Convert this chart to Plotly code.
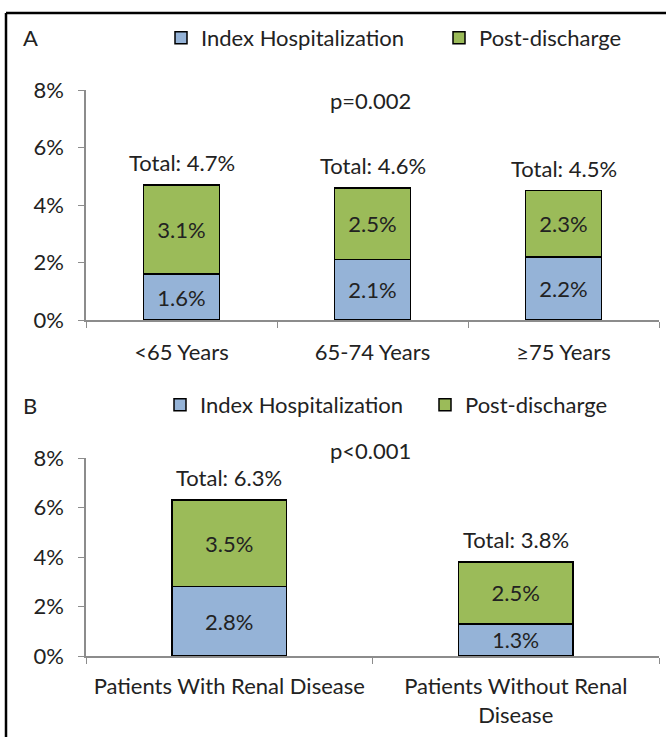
import plotly.graph_objects as go

# Panel A - age groups
age_groups = ['<65 Years', '65-74 Years', '≥75 Years']
age_index = [1.6, 2.1, 2.2]
age_post = [3.1, 2.5, 2.3]
age_total = [4.7, 4.6, 4.5]

# Panel B - renal disease
renal_groups = ['Patients With Renal Disease', 'Patients Without Renal<br>Disease']
renal_index = [2.8, 1.3]
renal_post = [3.5, 2.5]
renal_total = [6.3, 3.8]

blue = '#95B3D7'
green = '#9BBB59'
font_name = 'Lato, Open Sans, sans-serif'
W, H = 666, 737
FS = 22


def px_x(x):
    return x / W


def px_y(y):
    return 1 - y / H


fig = go.Figure()

panels = [
    (age_groups, age_index, age_post, age_total, 'x', 'y', 'legend', 'legend2'),
    (renal_groups, renal_index, renal_post, renal_total, 'x2', 'y2', 'legend3', 'legend4'),
]
for cats, idx, post, tot, xa, ya, lg1, lg2 in panels:
    fig.add_trace(go.Bar(
        x=cats, y=idx, name='Index Hospitalization', xaxis=xa, yaxis=ya, legend=lg1,
        marker=dict(color=blue, line=dict(color='black', width=1.5)),
        text=[f'{v}%' for v in idx], textposition='inside', insidetextanchor='middle',
        textfont=dict(size=FS, color='#222222'), width=0.4,
    ))
    fig.add_trace(go.Bar(
        x=cats, y=post, name='Post-discharge', xaxis=xa, yaxis=ya, legend=lg2,
        marker=dict(color=green, line=dict(color='black', width=1.5)),
        text=[f'{v}%' for v in post], textposition='inside', insidetextanchor='middle',
        textfont=dict(size=FS, color='#222222'), width=0.4,
    ))
    # totals above each stack
    for c, t in zip(cats, tot):
        fig.add_annotation(x=c, y=t, xref=xa, yref=ya, text=f'Total: {t}%', showarrow=False,
                           yanchor='bottom', yshift=7, font=dict(size=FS, color='#222222'))

axis_common = dict(showline=True, linecolor='#8C8C8C', linewidth=1.5, showgrid=False,
                   ticks='outside', tickcolor='#8C8C8C', ticklen=6,
                   tickfont=dict(size=FS, color='#222222'))


def leg(x, y):
    return dict(orientation='h', x=px_x(x), y=px_y(y), yanchor='middle', xanchor='left',
                font=dict(size=FS), bgcolor='rgba(0,0,0,0)')


fig.update_layout(
    width=W, height=H, barmode='stack', plot_bgcolor='white', paper_bgcolor='white',
    margin=dict(l=0, r=0, t=0, b=0, autoexpand=False), font=dict(family=font_name, color='#222222'),
    xaxis=dict(domain=[px_x(86), px_x(659)], anchor='y', tickson='boundaries',
               ticklabelstandoff=12, **axis_common),
    yaxis=dict(domain=[px_y(320), px_y(90)], anchor='x', range=[0, 8], dtick=2,
               ticksuffix='%', ticklabelstandoff=10, **axis_common),
    xaxis2=dict(domain=[px_x(86), px_x(659)], anchor='y2', tickson='boundaries',
                ticklabelstandoff=10, **axis_common),
    yaxis2=dict(domain=[px_y(656), px_y(458)], anchor='x2', range=[0, 8], dtick=2,
                ticksuffix='%', ticklabelstandoff=10, **axis_common),
    legend=leg(161, 38), legend2=leg(439, 38),
    legend3=leg(160, 405), legend4=leg(425, 405),
    showlegend=True,
)

notes = [('A', 30, 38), ('B', 30, 405), ('p=0.002', 370, 100), ('p<0.001', 370, 450)]
for txt, x, y in notes:
    fig.add_annotation(text=txt, x=px_x(x), y=px_y(y), xref='paper', yref='paper',
                       xanchor='center', yanchor='middle',
                       showarrow=False, font=dict(size=FS, color='#222222'))

# frame lines
fig.add_shape(type='line', xref='paper', yref='paper', x0=px_x(6), x1=1, y0=px_y(13), y1=px_y(13),
              line=dict(color='black', width=2.5))
fig.add_shape(type='line', xref='paper', yref='paper', x0=px_x(6), x1=px_x(6), y0=px_y(13), y1=0,
              line=dict(color='black', width=2.5))

fig.write_html("out.html", config={'displayModeBar': False},
               post_script="document.body.style.margin='0';")
